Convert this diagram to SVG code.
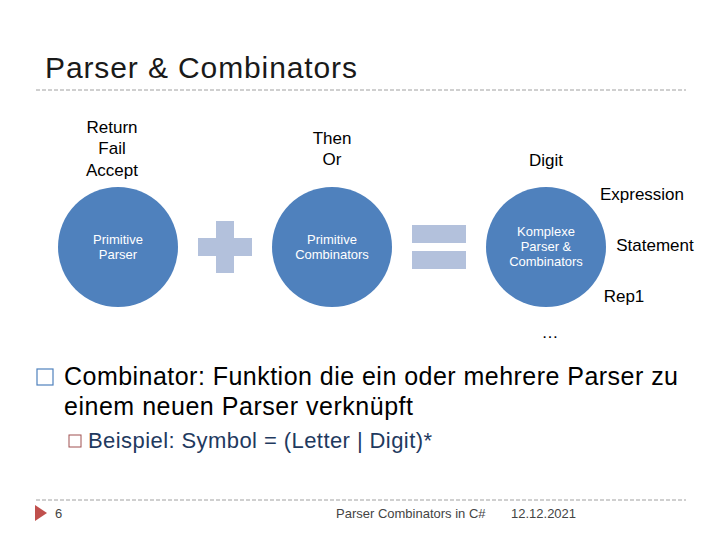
<svg xmlns="http://www.w3.org/2000/svg" width="720" height="540" viewBox="0 0 720 540">
<style>
text{font-family:"Liberation Sans",Arial,sans-serif}
.c{fill:#4F81BD}
.ci{fill:#fff;font-size:13px;text-anchor:middle}
.lb{fill:#000;font-size:17px;text-anchor:middle}
.op{fill:#B3C1DC}
.dash{stroke:#A0A0A0;stroke-width:1;stroke-dasharray:4,2}
</style>
<rect width="720" height="540" fill="#fff"/>
<text x="45" y="78" font-size="30" fill="#1a1a1a" textLength="312">Parser &amp; Combinators</text>
<line class="dash" x1="36" y1="90" x2="686" y2="90"/>
<g id="n1"><circle class="c" cx="118" cy="247" r="60"/>
<text class="ci" x="118" y="244">Primitive</text><text class="ci" x="118" y="259">Parser</text></g>
<g id="n1lbl"><text class="lb" x="112" y="133">Return</text><text class="lb" x="112" y="154">Fail</text><text class="lb" x="112" y="176">Accept</text></g>
<g id="plus"><rect class="op" x="216" y="221" width="18" height="52"/><rect class="op" x="198" y="238" width="54" height="18"/></g>
<g id="n2"><circle class="c" cx="332" cy="247" r="60"/>
<text class="ci" x="332" y="244">Primitive</text><text class="ci" x="332" y="259">Combinators</text></g>
<g id="n2lbl"><text class="lb" x="332" y="144">Then</text><text class="lb" x="332" y="165">Or</text></g>
<g id="eq"><rect class="op" x="412" y="225" width="54" height="18"/><rect class="op" x="412" y="251" width="54" height="18"/></g>
<g id="n3"><circle class="c" cx="546" cy="247" r="60"/>
<text class="ci" x="546" y="236">Komplexe</text><text class="ci" x="546" y="251">Parser &amp;</text><text class="ci" x="546" y="266">Combinators</text></g>
<g id="n3lbl"><text class="lb" x="546" y="166">Digit</text>
<text class="lb" x="642" y="200">Expression</text>
<text class="lb" x="655" y="251">Statement</text>
<text class="lb" x="624" y="302">Rep1</text>
<text class="lb" x="550" y="338">…</text></g>
<rect x="37" y="369" width="16" height="16" fill="none" stroke="#4F81BD" stroke-width="1.2"/>
<text x="64" y="385" font-size="25" fill="#000" textLength="614">Combinator: Funktion die ein oder mehrere Parser zu</text>
<text x="64" y="415" font-size="25" fill="#000" textLength="349">einem neuen Parser verknüpft</text>
<rect x="69" y="435" width="12" height="12" fill="none" stroke="#A05050" stroke-width="1"/>
<text x="88" y="448" font-size="22" fill="#1F3A5F" textLength="344">Beispiel: Symbol = (Letter | Digit)*</text>
<line class="dash" x1="36" y1="500" x2="686" y2="500"/>
<polygon points="35,505 47,513 35,521" fill="#C0504D"/>
<text x="55" y="518" font-size="13" fill="#444">6</text>
<text x="336" y="518" font-size="13" fill="#444">Parser Combinators in C#</text>
<text x="511" y="518" font-size="13" fill="#444">12.12.2021</text>
</svg>
